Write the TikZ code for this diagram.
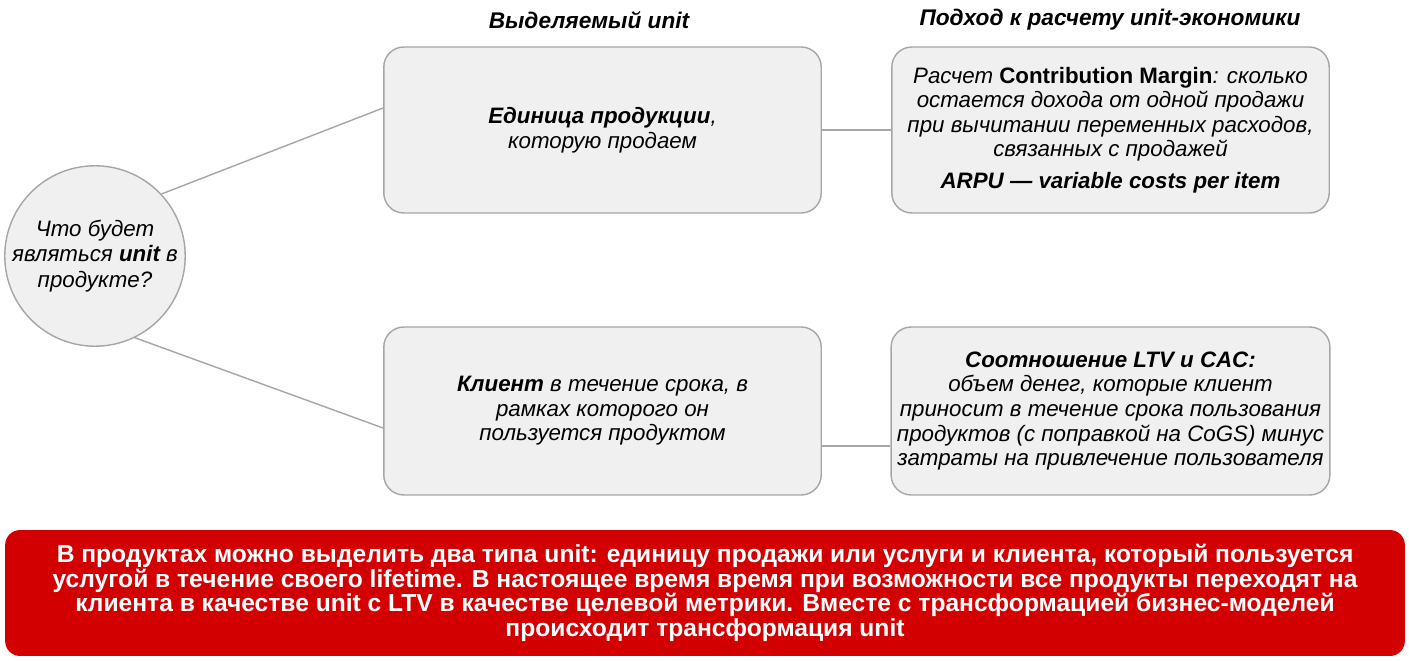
\documentclass[tikz,border=0pt]{standalone}
\usepackage{fontspec}
\setmainfont{Liberation Sans}
\definecolor{bannerred}{RGB}{210,0,0}
\begin{document}
\begin{tikzpicture}[x=0.02cm,y=-0.02cm]
  % Define box, question and banner styles
  \tikzstyle{myboxunit} = [draw=gray!70, fill=gray!12, line width=0.8pt,
  rectangle, rounded corners=0.4cm, minimum width=8.75cm,
  minimum height=3.32cm, align=center,
  font=\fontsize{12.7}{14}\selectfont\itshape]
  \tikzstyle{myquestion} = [draw=gray!70, fill=gray!12, line width=0.8pt,
  circle, minimum size=3.52cm, inner sep=0pt, align=center,
  font=\fontsize{12.7}{14.5}\selectfont\itshape]
  \tikzstyle{fancyheader} = [font=\fontsize{12.9}{14}\selectfont\bfseries\itshape]
  \tikzstyle{mybanner} = [fill=bannerred, text=white, rectangle,
  rounded corners=0.3cm, minimum width=28cm, minimum height=2.52cm,
  align=center, font=\fontsize{14}{14}\selectfont\bfseries]
  \tikzstyle{mylink} = [draw=gray!70, line width=0.8pt]

  \useasboundingbox (0,0) rectangle (1409,661);

  \node[fancyheader] (hunit) at (589,20) {Выделяемый unit};
  \node[fancyheader] (happroach) at (1110,20) {Подход к расчету unit-экономики};

  \node[myquestion] (question) at (95,256)
    {Что будет\\ являться \textbf{unit} в\\ продукте?};

  \node[myboxunit] (item) at (602.5,130)
    {\textbf{Единица продукции},\\ которую продаем};
  \node[myboxunit] (margin) at (1110.5,130)
    {Расчет \textbf{\upshape Contribution Margin}: сколько\\
     остается дохода от одной продажи\\
     при вычитании переменных расходов,\\
     связанных с продажей\\[4pt]
     \textbf{ARPU — variable costs per item}};
  \node[myboxunit, minimum height=3.36cm] (client) at (602.5,411)
    {\textbf{Клиент} в течение срока, в\\ рамках которого он\\ пользуется продуктом};
  \node[myboxunit, minimum height=3.36cm] (ltv) at (1110.5,411)
    {\textbf{Соотношение LTV и CAC:}\\
     объем денег, которые клиент\\
     приносит в течение срока пользования\\
     продуктов (с поправкой на CoGS) минус\\
     затраты на привлечение пользователя};

  \draw[mylink] (question.43) -- ([yshift=0.44cm]item.west);
  \draw[mylink] (question.-64) -- ([yshift=-0.34cm]client.west);
  \draw[mylink] (item.east) -- (margin.west);
  \draw[mylink] ([yshift=-0.7cm]client.east) -- ([yshift=-0.7cm]ltv.west);

  \node[mybanner] (summary) at (705,593)
    {В продуктах можно выделить два типа unit: единицу продажи или услуги и клиента, который пользуется\\
     услугой в течение своего lifetime. В настоящее время время при возможности все продукты переходят на\\
     клиента в качестве unit с LTV в качестве целевой метрики. Вместе с трансформацией бизнес-моделей\\
     происходит трансформация unit};
\end{tikzpicture}
\end{document}
